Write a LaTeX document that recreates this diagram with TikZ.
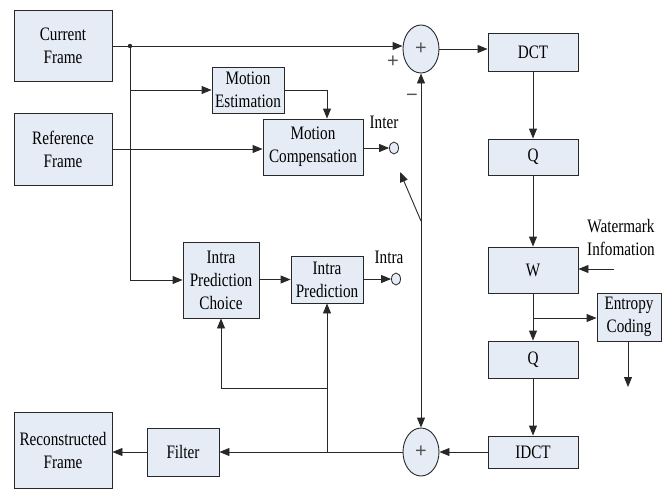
\documentclass[tikz,border=0pt]{standalone}
\usepackage{fontspec}
\setmainfont{Liberation Serif}[FakeStretch=0.8]
\newfontfamily\signfont{Liberation Sans}
\usetikzlibrary{arrows.meta,shapes.geometric}
\definecolor{boxfill}{RGB}{230,236,246}
\definecolor{linec}{RGB}{40,40,40}
\tikzset{
  box/.style={draw=linec, fill=boxfill, line width=0.9pt, inner sep=0pt, align=center,
    font=\fontsize{19}{23}\selectfont},
  adder/.style={draw=linec, fill=boxfill, ellipse, line width=0.9pt, minimum width=36pt, minimum height=48pt, inner sep=0pt,
    font=\signfont\fontsize{20}{20}\selectfont, text=linec!80},
  sw/.style={draw=linec, fill=boxfill, ellipse, line width=0.8pt, minimum width=9pt, minimum height=12pt, inner sep=0pt},
  conn/.style={draw=linec, line width=0.9pt},
  arr/.style={conn, -{Triangle[length=10pt,width=8pt]}},
  lbl/.style={inner sep=0pt, align=center, font=\fontsize{19}{23}\selectfont},
  sgn/.style={inner sep=0pt, font=\signfont\fontsize{20}{20}\selectfont, text=linec!80}
}
\begin{document}
\begin{tikzpicture}[x=1pt,y=-1pt]
\useasboundingbox (0,0) rectangle (670,490);
% boxes
\node[box, minimum width=98pt, minimum height=71pt] (cur) at (63,46) {Current\\Frame};
\node[box, minimum width=98pt, minimum height=72pt] (ref) at (63,149) {Reference\\Frame};
\node[box, minimum width=72pt, minimum height=46pt] (me) at (248,90) {Motion\\Estimation};
\node[box, minimum width=100pt, minimum height=56pt] (mc) at (313,147) {Motion\\Compensation};
\node[box, minimum width=76pt, minimum height=76pt] (ipc) at (221,280) {Intra\\Prediction\\Choice};
\node[box, minimum width=72pt, minimum height=47pt] (ip) at (327,279.5) {Intra\\Prediction};
\node[box, minimum width=90pt, minimum height=38pt] (dct) at (533,52) {DCT};
\node[box, minimum width=90pt, minimum height=36pt] (q1) at (533,157) {Q};
\node[box, minimum width=90pt, minimum height=46pt] (w) at (533,270) {W};
\node[box, minimum width=64pt, minimum height=48pt] (ec) at (629,317) {Entropy\\Coding};
\node[box, minimum width=90pt, minimum height=37pt] (q2) at (533,359.5) {Q};
\node[box, minimum width=90pt, minimum height=32pt] (idct) at (533,452) {IDCT};
\node[box, minimum width=72pt, minimum height=48pt] (filt) at (183,452) {Filter};
\node[box, minimum width=98pt, minimum height=76pt] (rec) at (63,450) {Reconstructed\\Frame};
% adders and switch contacts
\node[adder] (add1) at (421,49) {+};
\node[adder] (add2) at (421,452) {+};
\node[sw] (inter) at (394,148) {};
\node[sw] (intra) at (396,279) {};
% labels
\node[lbl] (linter) at (384,122) {Inter};
\node[lbl] (lintra) at (389,257) {Intra};
\node[lbl] (lwm) at (621,237) {Watermark\\Infomation};
\node[sgn] (lplus) at (393,62) {+};
\node[sgn] (lminus) at (412,98) {\textminus};
% coordinates
\coordinate (j1) at (130,46);
\coordinate (swp) at (421,221);
\coordinate (swtip) at (400,172);
\coordinate (wmsrc) at (614,269);
\coordinate (ecout) at (628,387);
\coordinate (wbr) at (533,318);
\coordinate (fb) at (327,452);
\coordinate (fb2) at (327,388);
% connectors
\draw[arr] (cur.east |- j1) -- (j1 -| add1.west);
\fill[linec] (j1) circle (2.2pt);
\draw[arr] (j1) |- (ipc.west);
\draw[arr] (j1 |- me.west) -- (me.west);
\draw[arr] (me.east) -| ([xshift=14pt]mc.north);
\draw[arr] (ref.east) -- (ref.east -| mc.west);
\draw[arr] (mc.east |- inter) -- (inter.west);
\draw[arr] (ipc.east |- ip) -- (ip.west);
\draw[arr] (ip.east |- intra) -- (intra.west);
\draw[arr] (add1.east) -- (add1.east -| dct.west);
\draw[arr] (dct.south) -- (q1.north);
\draw[arr] (q1.south) -- (w.north);
\draw[arr] (wmsrc) -- (wmsrc -| w.east);
\draw[arr] (w.south) -- (q2.north);
\draw[arr] (wbr) -- (wbr -| ec.west);
\draw[arr] (ecout |- ec.south) -- (ecout);
\draw[arr] (q2.south) -- (idct.north);
\draw[arr] (idct.west) -- (add2.east);
\draw[arr] (add2.west) -- (filt.east);
\draw[arr] (filt.west) -- (filt.west -| rec.east);
\draw[arr] (fb) -- (ip.south);
\draw[arr] (fb2) -| (ipc.south);
\draw[arr] (swp) -- (add1.south);
\draw[arr] (swp) -- (add2.north);
\draw[arr] (swp) -- (swtip);
\end{tikzpicture}
\end{document}
